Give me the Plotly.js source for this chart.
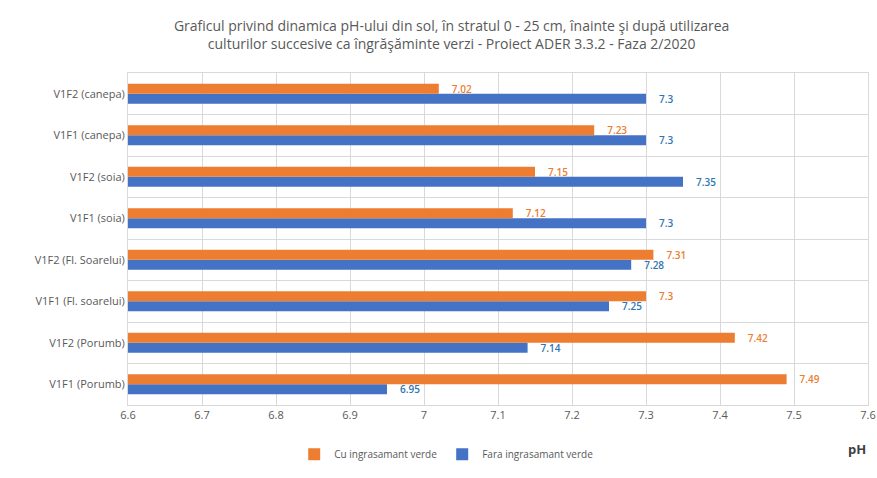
<!DOCTYPE html>
<html>
<head>
<meta charset="utf-8">
<script src="https://cdn.plot.ly/plotly-3.0.1.min.js"></script>
<style>html,body{margin:0;padding:0;background:#fff;}#chart{width:877px;height:478px;}</style>
</head>
<body>
<div id="chart"></div>
<script>
const categories = ["V1F1 (Porumb)", "V1F2 (Porumb)", "V1F1 (Fl. soarelui)", "V1F2 (Fl. Soarelui)", "V1F1 (soia)", "V1F2 (soia)", "V1F1 (canepa)", "V1F2 (canepa)"];
const cuIngrasamant = [7.49, 7.42, 7.3, 7.31, 7.12, 7.15, 7.23, 7.02];
const faraIngrasamant = [6.95, 7.14, 7.25, 7.28, 7.3, 7.35, 7.3, 7.3];
const xTicks = [6.6, 6.7, 6.8, 6.9, 7, 7.1, 7.2, 7.3, 7.4, 7.5, 7.6];

const font = "Open Sans, Liberation Sans, sans-serif";
const pad = v => "\u2002\u2002" + String(v);
const traces = [
  {
    type: "bar", orientation: "h", name: "Fara ingrasamant verde",
    y: categories, x: faraIngrasamant,
    marker: {color: "#4472C4"},
    text: faraIngrasamant.map(pad), textposition: "outside", constraintext: "none",
    textfont: {color: "#2E75B6", size: 10, family: font, weight: 600},
    cliponaxis: false, hoverinfo: "x+y"
  },
  {
    type: "bar", orientation: "h", name: "Cu ingrasamant verde",
    y: categories, x: cuIngrasamant,
    marker: {color: "#ED7D31"},
    text: cuIngrasamant.map(pad), textposition: "outside", constraintext: "none",
    textfont: {color: "#ED7D31", size: 10, family: font, weight: 600},
    cliponaxis: false, hoverinfo: "x+y"
  }
];

const layout = {
  width: 877, height: 478,
  paper_bgcolor: "#fff", plot_bgcolor: "#fff",
  font: {family: font, color: "#595959", size: 11},
  title: {
    text: "Graficul privind dinamica pH-ului din sol, în stratul 0 - 25 cm, înainte şi după utilizarea<br>culturilor succesive ca îngrăşăminte verzi - Proiect ADER 3.3.2 - Faza 2/2020",
    font: {size: 14, color: "#595959", family: font},
    x: 0.515, xanchor: "center", y: 0.935, yanchor: "middle"
  },
  margin: {l: 128, r: 9, t: 73, b: 55},
  barmode: "group", bargap: 0.52, bargroupgap: 0,
  xaxis: {
    range: [6.6, 7.6], tickvals: xTicks, ticktext: xTicks.map(String),
    showgrid: true, gridcolor: "#d9d9d9", zeroline: false,
    showline: true, linecolor: "#d9d9d9", mirror: true,
    ticks: "", tickfont: {size: 11, color: "#595959"}
  },
  yaxis: {
    type: "category", categoryorder: "array", categoryarray: categories,
    tickson: "boundaries", showgrid: true, gridcolor: "#d9d9d9",
    showline: true, linecolor: "#d9d9d9", mirror: true,
    ticks: "", ticklen: 0, tickfont: {size: 11, color: "#595959"}
  },
  legend: {
    orientation: "h", x: 0.43, xanchor: "center", y: -0.105, yanchor: "top",
    traceorder: "reversed", font: {size: 10, color: "#595959"},
    itemwidth: 30
  },
  annotations: [{
    text: "<b>pH</b>", xref: "paper", yref: "paper", x: 0.985, y: -0.1,
    xanchor: "center", yanchor: "top", showarrow: false,
    font: {size: 13, color: "#404040"}
  }],
  showlegend: true
};

Plotly.newPlot("chart", traces, layout, {displayModeBar: false, staticPlot: true});
</script>
</body>
</html>
